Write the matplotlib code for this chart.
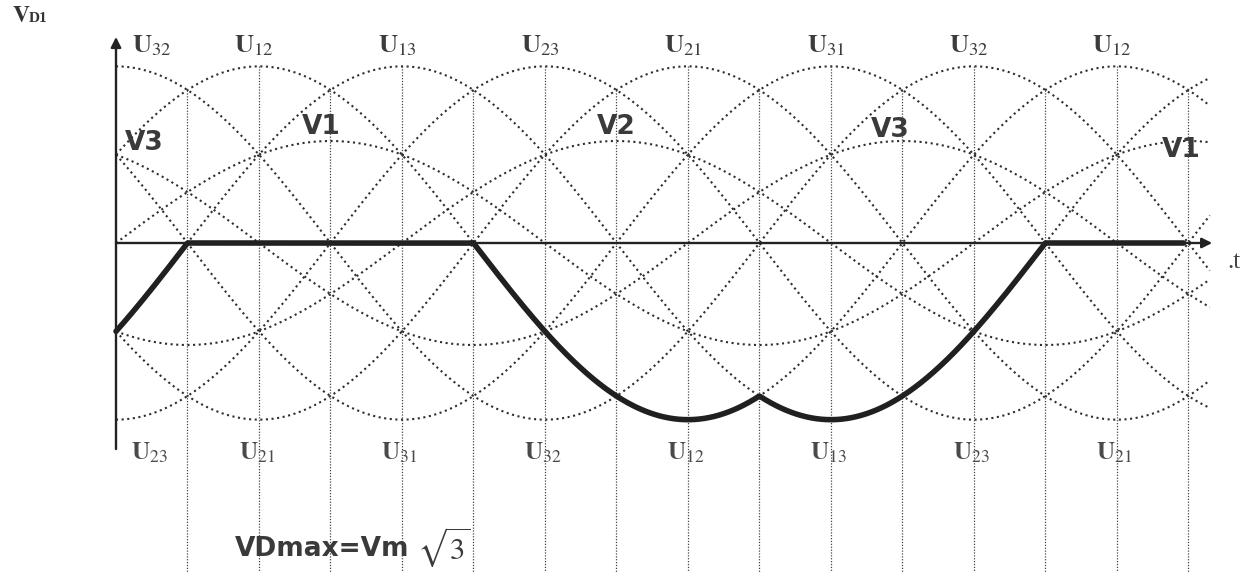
import numpy as np
import matplotlib.pyplot as plt

plt.rcParams['mathtext.fontset'] = 'stix'

# phase voltages (amplitude Vm = 1), shift of each phase in degrees
phaseNames = ["V1", "V2", "V3"]
phaseShift = [0, -120, 120]
phaseAmp = 1.0

# line voltages (amplitude Vm*sqrt(3)), angle of the positive peak
lineNames = ["U32", "U12", "U13", "U23", "U21", "U31"]
linePeaks = [0, 60, 120, 180, 240, 300]
lineAmp = np.sqrt(3)

# labels written above the peaks / below the troughs
topLabels = ["32", "12", "13", "23", "21", "31", "32", "12"]
bottomLabels = ["23", "21", "31", "32", "12", "13", "23", "21"]
labelAngles = [0, 60, 120, 180, 240, 300, 360, 420]

gridAngles = list(range(30, 451, 30))
curveEnd = 459
vdEnd = 448
axisEnd = 460

# pixel mapping of the original sheet
pxPerDeg = 2.383
x0 = 116
y0 = 243
pxPerV = 102.0
W, H = 1250, 572

ink = "#2e2e2e"
txt = "#3c3c3c"


def phase(th, shift):
    return phaseAmp * np.sin(np.radians(th + shift))


def line(th, peak):
    return lineAmp * np.cos(np.radians(th - peak))


fig = plt.figure(figsize=(W / 100, H / 100), dpi=100)
ax = fig.add_axes([0, 0, 1, 1])
ax.set_xlim(-x0 / pxPerDeg, (W - x0) / pxPerDeg)
ax.set_ylim(-(H - y0) / pxPerV, y0 / pxPerV)
ax.axis('off')

th = np.linspace(0, curveEnd, 1500)

for p in linePeaks:
    ax.plot(th, line(th, p), color=ink, lw=1.5, linestyle=(0, (1, 1.7)))
for s in phaseShift:
    ax.plot(th, phase(th, s), color=ink, lw=1.5, linestyle=(0, (1, 1.7)))

# vertical dotted guide lines from the upper envelope down to the page edge
for g in gridAngles:
    top = max(line(g, p) for p in linePeaks)
    ax.plot([g, g], [top, ax.get_ylim()[0]], color="#444444", lw=0.9,
            linestyle=(0, (1, 1.3)))

# axes with arrows
ax.annotate('', xy=(0, 2.02), xytext=(0, -2.02),
            arrowprops=dict(arrowstyle='-|>', color="#222222", lw=1.7,
                            mutation_scale=15, shrinkA=0, shrinkB=0))
ax.annotate('', xy=(axisEnd, 0), xytext=(0, 0),
            arrowprops=dict(arrowstyle='-|>', color="#222222", lw=1.7,
                            mutation_scale=15, shrinkA=0, shrinkB=0))

# diode voltage VD1 = V1 - max(V1, V2, V3)
thv = np.linspace(0, vdEnd, 1500)
vmax = np.max([phase(thv, s) for s in phaseShift], axis=0)
vd1 = phase(thv, phaseShift[0]) - vmax
ax.plot(thv, vd1, color="#202020", lw=4.0, solid_capstyle='round',
        solid_joinstyle='round')

# labels
for i, (a, lab) in enumerate(zip(labelAngles, topLabels)):
    xa = a + 15 if i == 0 else a - 2
    ax.text(xa, 1.94, r'$\mathbf{U}_{%s}$' % lab, fontsize=19, color=txt,
            ha='center', va='center')
for i, (a, lab) in enumerate(zip(labelAngles, bottomLabels)):
    xa = a + 14 if i == 0 else a - 1
    ax.text(xa, -2.06, r'$\mathbf{U}_{%s}$' % lab, fontsize=18, color="#4a4a4a",
            ha='center', va='center')

phaseTextPos = [(12, 0.98, "V3"), (86, 1.14, "V1"), (210, 1.14, "V2"),
                (325, 1.11, "V3"), (447, 0.91, "V1")]
for xa, ya, lab in phaseTextPos:
    ax.text(xa, ya, lab, fontsize=19, color="#3a3a3a", ha='center',
            va='center', family='DejaVu Sans', fontweight='bold')

ax.text(-43.6, 2.24, r'$\mathbf{V}$', fontsize=17, color="#333333",
        ha='left', va='center')
ax.text(-36.6, 2.2, 'D1', fontsize=11, color="#333333", ha='left',
        va='center', family='Liberation Serif', fontweight='bold')

ax.text(466.5, -0.19, '.t', fontsize=18, color="#444444", ha='left',
        va='center', family='Liberation Serif')

ax.text(50, -3.0, 'VDmax=Vm', fontsize=19, color="#3a3a3a",
        ha='left', va='center', family='DejaVu Sans', fontweight='bold')
ax.text(126.5, -2.98, r'$\sqrt{3}$', fontsize=22, color="#3a3a3a",
        ha='left', va='center')

fig.savefig('out.png', dpi=100, facecolor='white')
